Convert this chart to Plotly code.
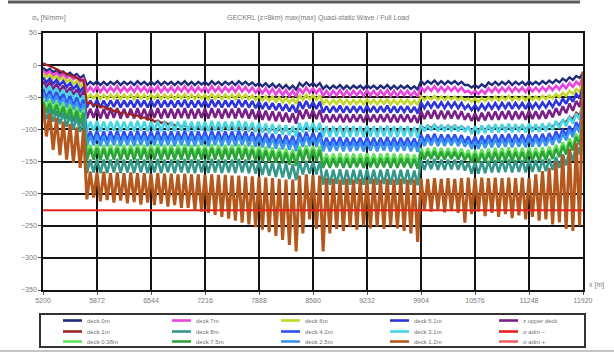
import plotly.graph_objects as go

# Frame stations along the hull girder (m), one every 42 m
STATION_X = list(range(5200, 11921, 42))

# Longitudinal stress sigma_x [N/mm^2] per evaluation level, one value per station
DECK_0 = [
    -4, -9, -6, -11, -8, -13, -10, -15, -12, -17, -14, -20, -16,
    -31, -26, -30, -25, -31, -26, -31, -26, -30, -25,
    -31, -26, -30, -26, -31, -25, -30, -26, -31, -26,
    -30, -25, -31, -26, -30, -26, -31, -26, -30, -25,
    -31, -26, -31, -26, -30, -26, -31, -25, -30, -26,
    -31, -26, -30, -26, -31, -25, -30, -26, -31, -27,
    -32, -28, -33, -28, -34, -29, -35, -30, -36, -31,
    -37, -32, -38,
    -28, -33, -27, -32, -28, -33, -28,
    -37, -32, -37, -32, -36, -31, -37, -32, -37, -32,
    -36, -32, -37, -31, -36, -32, -37, -32, -36, -31,
    -37, -32, -37, -32, -36, -32, -37, -33, -38,
    -25, -30, -25, -29, -24, -30, -25, -30, -25, -29, -25, -30, -26, -31,
    -31, -35, -31, -35, -30, -34, -27, -31, -26, -31,
    -26, -30, -25, -31, -26, -30, -26, -31, -25, -30,
    -26, -30, -25, -29, -24, -28, -23, -27, -21, -25,
    -19, -23, -17, -20, -12,
]
DECK_7 = [
    -8, -14, -10, -16, -12, -18, -14, -20, -16, -22, -18, -26, -21,
    -42, -34, -41, -33, -42, -34, -42, -34, -41, -33,
    -42, -34, -41, -34, -42, -33, -41, -34, -42, -34,
    -41, -33, -42, -34, -41, -34, -42, -34, -41, -33,
    -42, -34, -42, -34, -41, -34, -42, -33, -41, -34,
    -42, -34, -41, -34, -42, -33, -41, -34, -42, -35,
    -43, -36, -44, -36, -45, -37, -46, -38, -47, -39,
    -48, -40, -49,
    -36, -44, -35, -43, -36, -44, -36,
    -48, -40, -48, -40, -47, -39, -48, -40, -48, -40,
    -47, -40, -48, -39, -47, -40, -48, -40, -47, -39,
    -48, -40, -48, -40, -47, -40, -48, -41, -49,
    -34, -41, -34, -40, -33, -41, -34, -41, -34, -40, -34, -41, -35, -42,
    -40, -45, -40, -45, -39, -44, -36, -42, -35, -42,
    -35, -41, -34, -42, -35, -41, -35, -42, -34, -41,
    -35, -41, -34, -40, -33, -39, -32, -38, -30, -36,
    -28, -34, -26, -31, -18,
]
DECK_6 = [
    -13, -19, -15, -21, -17, -23, -19, -26, -22, -29, -25, -33, -28,
    -53, -46, -52, -45, -53, -46, -53, -46, -52, -45,
    -53, -46, -52, -46, -53, -45, -52, -46, -53, -46,
    -52, -45, -53, -46, -52, -46, -53, -46, -52, -45,
    -53, -46, -53, -46, -52, -46, -53, -45, -52, -46,
    -53, -46, -52, -46, -53, -45, -52, -46, -53, -47,
    -54, -48, -55, -48, -56, -49, -57, -50, -58, -51,
    -59, -52, -60,
    -47, -54, -46, -53, -47, -54, -47,
    -61, -54, -61, -54, -60, -53, -61, -54, -61, -54,
    -60, -54, -61, -53, -60, -54, -61, -54, -60, -53,
    -61, -54, -61, -54, -60, -54, -61, -55, -62,
    -49, -54, -49, -53, -48, -54, -49, -54, -49, -53, -49, -54, -50, -55,
    -52, -57, -52, -57, -51, -56, -50, -55, -49, -55,
    -49, -54, -48, -55, -49, -54, -49, -55, -48, -54,
    -49, -54, -48, -53, -47, -52, -45, -50, -43, -48,
    -40, -45, -37, -42, -26,
]
DECK_5 = [
    -19, -27, -21, -29, -23, -31, -25, -34, -28, -37, -31, -41, -34,
    -66, -55, -65, -54, -66, -55, -66, -55, -65, -54,
    -66, -55, -65, -55, -66, -54, -65, -55, -66, -55,
    -65, -54, -66, -55, -65, -55, -66, -55, -65, -54,
    -66, -55, -66, -55, -65, -55, -66, -54, -65, -55,
    -66, -55, -65, -55, -66, -54, -65, -55, -66, -56,
    -67, -57, -68, -58, -69, -59, -70, -60, -71, -61,
    -72, -62, -74,
    -57, -68, -56, -67, -57, -68, -57,
    -74, -64, -74, -64, -73, -63, -74, -64, -74, -64,
    -73, -64, -74, -63, -73, -64, -74, -64, -73, -63,
    -74, -64, -74, -64, -73, -64, -74, -65, -75,
    -58, -67, -58, -66, -57, -67, -58, -67, -58, -66, -58, -67, -59, -68,
    -62, -70, -62, -70, -61, -69, -60, -68, -59, -68,
    -59, -67, -58, -68, -59, -67, -59, -68, -58, -67,
    -59, -67, -58, -66, -57, -65, -55, -63, -52, -60,
    -49, -57, -45, -52, -32,
]
UPPER_DECK = [
    -25, -34, -27, -37, -30, -40, -32, -43, -35, -46, -38, -50, -41,
    -83, -68, -82, -67, -83, -68, -83, -68, -82, -67,
    -83, -68, -82, -68, -83, -67, -82, -68, -83, -68,
    -82, -67, -83, -68, -82, -68, -83, -68, -82, -67,
    -83, -68, -83, -68, -82, -68, -83, -67, -82, -68,
    -83, -68, -82, -68, -83, -67, -82, -68, -83, -69,
    -84, -70, -85, -71, -86, -72, -87, -73, -88, -74,
    -89, -75, -91,
    -70, -84, -69, -83, -70, -84, -70,
    -89, -77, -89, -77, -88, -76, -89, -77, -89, -77,
    -88, -77, -89, -76, -88, -77, -89, -77, -88, -76,
    -89, -77, -89, -77, -88, -77, -89, -78, -90,
    -71, -84, -71, -83, -70, -84, -71, -84, -71, -83, -71, -84, -72, -85,
    -75, -87, -75, -87, -74, -86, -73, -85, -72, -85,
    -72, -84, -71, -85, -72, -84, -72, -85, -71, -84,
    -72, -84, -71, -83, -70, -81, -67, -78, -64, -75,
    -60, -71, -56, -65, -40,
]
DECK_1 = [
    3, 1, -1, -4, -6, -9, -11, -13, -15, -18, -20, -23, -24,
    -60, -58, -63, -61, -66, -64, -69, -67, -72, -70,
    -75, -73, -78, -76, -80, -78, -83, -81, -85, -83,
    -88, -86, -90, -88, -92, -90, -94, -92, -96, -94,
    -98, -95, -99, -95, -99, -95, -100, -96, -100, -96,
    -100, -96, -100, -96, -101, -97, -101, -97, -102, -98,
    -102, -98, -103, -99, -103, -99, -104, -100, -104, -100,
    -105, -101, -106,
    -96, -100, -95, -99, -96, -100, -96,
    -103, -98, -103, -98, -102, -97, -103, -98, -103, -98,
    -102, -98, -103, -97, -102, -98, -103, -98, -102, -97,
    -103, -98, -103, -98, -102, -98, -103, -99, -104,
    -94, -99, -94, -98, -93, -99, -94, -99, -94, -98, -94, -99, -95, -100,
    -97, -102, -97, -102, -96, -101, -95, -100, -95, -100,
    -95, -99, -94, -100, -95, -99, -95, -100, -94, -99,
    -95, -99, -94, -98, -93, -96, -90, -93, -86, -89,
    -80, -84, -74, -78, -60,
]
DECK_31 = [
    -31, -42, -33, -45, -36, -48, -38, -51, -41, -54, -44, -58, -47,
    -103, -88, -102, -87, -103, -88, -103, -88, -102, -87,
    -103, -88, -102, -88, -103, -87, -102, -88, -103, -88,
    -102, -87, -103, -88, -102, -88, -103, -88, -102, -87,
    -103, -88, -103, -88, -102, -88, -103, -87, -102, -88,
    -103, -88, -102, -88, -103, -87, -102, -88, -103, -89,
    -104, -90, -105, -91, -106, -92, -107, -93, -108, -94,
    -109, -95, -111,
    -90, -104, -89, -103, -90, -104, -90,
    -112, -95, -112, -95, -111, -94, -112, -95, -112, -95,
    -111, -95, -112, -94, -111, -95, -112, -95, -111, -94,
    -112, -95, -112, -95, -111, -95, -112, -96, -113,
    -93, -103, -93, -102, -92, -103, -93, -103, -93, -102, -93, -103, -94, -104,
    -95, -107, -95, -107, -94, -106, -93, -105, -92, -105,
    -92, -104, -91, -105, -92, -104, -92, -105, -91, -104,
    -92, -104, -91, -103, -90, -101, -87, -98, -84, -95,
    -80, -91, -75, -85, -55,
]
DECK_42 = [
    -37, -50, -40, -53, -42, -56, -45, -59, -48, -62, -51, -66, -54,
    -118, -103, -117, -102, -118, -103, -118, -103, -117, -102,
    -118, -103, -117, -103, -118, -102, -117, -103, -118, -103,
    -117, -102, -118, -103, -117, -103, -118, -103, -117, -102,
    -118, -103, -118, -103, -117, -103, -118, -102, -117, -103,
    -118, -103, -117, -103, -118, -102, -117, -103, -118, -104,
    -119, -105, -120, -106, -121, -107, -122, -108, -123, -109,
    -124, -110, -126,
    -105, -120, -104, -119, -105, -120, -105,
    -126, -113, -126, -113, -125, -112, -126, -113, -126, -113,
    -125, -113, -126, -112, -125, -113, -126, -113, -125, -112,
    -126, -113, -126, -113, -125, -113, -126, -114, -127,
    -108, -120, -108, -119, -107, -120, -108, -120, -108, -119, -108, -120, -109, -121,
    -111, -123, -111, -123, -110, -122, -109, -121, -108, -121,
    -108, -120, -107, -121, -108, -120, -108, -121, -107, -120,
    -108, -120, -107, -119, -106, -117, -103, -114, -99, -110,
    -95, -106, -89, -99, -64,
]
DECK_25 = [
    -43, -57, -46, -60, -48, -63, -51, -66, -54, -70, -57, -74, -60,
    -126, -110, -125, -109, -126, -110, -126, -110, -125, -109,
    -126, -110, -125, -110, -126, -109, -125, -110, -126, -110,
    -125, -109, -126, -110, -125, -110, -126, -110, -125, -109,
    -126, -110, -126, -110, -125, -110, -126, -109, -125, -110,
    -126, -110, -125, -110, -126, -109, -125, -110, -126, -111,
    -127, -112, -128, -113, -129, -114, -130, -115, -131, -116,
    -132, -117, -134,
    -112, -127, -111, -126, -112, -127, -112,
    -134, -120, -134, -120, -133, -119, -134, -120, -134, -120,
    -133, -120, -134, -119, -133, -120, -134, -120, -133, -119,
    -134, -120, -134, -120, -133, -120, -134, -121, -135,
    -114, -126, -114, -125, -113, -126, -114, -126, -114, -125, -114, -126, -115, -127,
    -118, -130, -118, -130, -117, -129, -116, -128, -115, -128,
    -115, -127, -114, -128, -115, -127, -115, -128, -114, -127,
    -115, -127, -114, -126, -113, -124, -110, -121, -106, -117,
    -101, -112, -95, -105, -70,
]
DECK_038 = [
    -51, -66, -54, -69, -56, -72, -59, -76, -62, -80, -65, -84, -68,
    -140, -124, -139, -123, -140, -124, -140, -124, -139, -123,
    -140, -124, -139, -124, -140, -123, -139, -124, -140, -124,
    -139, -123, -140, -124, -139, -124, -140, -124, -139, -123,
    -140, -124, -140, -124, -139, -124, -140, -123, -139, -124,
    -140, -124, -139, -124, -140, -123, -139, -124, -140, -125,
    -141, -126, -142, -127, -143, -128, -144, -129, -145, -130,
    -147, -131, -149,
    -126, -141, -125, -140, -126, -141, -126,
    -152, -138, -152, -138, -151, -137, -152, -138, -152, -138,
    -151, -138, -152, -137, -151, -138, -152, -138, -151, -137,
    -152, -138, -152, -138, -151, -138, -152, -139, -153,
    -129, -142, -129, -141, -128, -142, -129, -142, -129, -141, -129, -142, -130, -143,
    -132, -146, -132, -146, -131, -145, -130, -144, -129, -144,
    -129, -143, -128, -144, -129, -143, -129, -144, -128, -143,
    -129, -143, -128, -142, -127, -140, -124, -137, -120, -133,
    -114, -127, -107, -118, -78,
]
DECK_75 = [
    -57, -74, -60, -77, -62, -80, -65, -84, -68, -88, -71, -92, -74,
    -148, -130, -147, -129, -148, -130, -148, -130, -147, -129,
    -148, -130, -147, -130, -148, -129, -147, -130, -148, -130,
    -147, -129, -148, -130, -147, -130, -148, -130, -147, -129,
    -148, -130, -148, -130, -147, -130, -148, -129, -147, -130,
    -148, -130, -147, -130, -148, -129, -147, -130, -148, -131,
    -149, -132, -150, -133, -151, -134, -152, -135, -153, -136,
    -155, -137, -157,
    -132, -150, -131, -149, -132, -150, -132,
    -160, -145, -160, -145, -159, -144, -160, -145, -160, -145,
    -159, -145, -160, -144, -159, -145, -160, -145, -159, -144,
    -160, -145, -160, -145, -159, -145, -160, -146, -161,
    -135, -147, -135, -146, -134, -147, -135, -147, -135, -146, -135, -147, -136, -148,
    -138, -152, -138, -152, -137, -151, -136, -150, -135, -150,
    -135, -149, -134, -150, -135, -149, -135, -150, -134, -149,
    -135, -149, -134, -148, -133, -146, -130, -143, -126, -139,
    -120, -133, -112, -124, -84,
]
DECK_8 = [
    -65, -84, -68, -88, -71, -92, -74, -96, -77, -100, -80, -104, -83,
    -168, -147, -167, -146, -168, -147, -168, -147, -167, -146,
    -168, -147, -167, -147, -168, -146, -167, -147, -168, -147,
    -167, -146, -168, -147, -167, -147, -168, -147, -167, -146,
    -168, -147, -168, -147, -167, -147, -168, -146, -167, -147,
    -168, -147, -167, -147, -168, -146, -167, -147, -168, -148,
    -169, -149, -171, -150, -172, -151, -174, -152, -175, -153,
    -177, -154, -179,
    -150, -170, -149, -169, -150, -170, -150,
    -186, -163, -186, -163, -185, -162, -186, -163, -186, -163,
    -185, -163, -186, -162, -185, -163, -186, -163, -185, -162,
    -186, -163, -186, -163, -185, -163, -186, -164, -187,
    -147, -163, -147, -162, -146, -163, -147, -163, -147, -162, -147, -163, -148, -164,
    -151, -169, -151, -169, -150, -168, -149, -167, -148, -167,
    -148, -166, -147, -167, -148, -166, -148, -167, -147, -166,
    -148, -166, -147, -165, -146, -163, -143, -160, -139, -156,
    -132, -149, -124, -139, -92,
]
DECK_12 = [
    -62, -111, -76, -132, -82, -140, -88, -147, -92, -152, -97, -160, -100,
    -209, -166, -206, -167, -212, -166, -210, -168, -214, -167,
    -211, -168, -215, -167, -213, -168, -217, -168, -214, -169,
    -218, -168, -216, -169, -220, -169, -218, -170, -222, -169,
    -222, -170, -226, -170, -228, -171, -230, -170, -233, -171,
    -236, -171, -239, -172, -242, -172, -245, -173, -248, -173,
    -252, -174, -256, -175, -260, -176, -266, -177, -272, -178,
    -280, -178, -290,
    -172, -262, -170, -240, -171, -255, -172,
    -290, -176, -262, -177, -255, -178, -258, -177, -252, -178,
    -256, -177, -250, -178, -254, -177, -251, -178, -255, -177,
    -250, -178, -254, -177, -258, -178, -262, -178, -275,
    -176, -226, -177, -228, -176, -225, -177, -229, -176, -227, -177, -230, -176, -245,
    -175, -232, -176, -228, -175, -235, -176, -230, -175, -236,
    -176, -232, -175, -238, -176, -234, -175, -240, -176, -236,
    -170, -242, -165, -240, -160, -248, -150, -245, -140, -255,
    -130, -258, -121, -250, -10,
]

# Permissible stress limits [N/mm^2]
LIMIT_X = [5200, 11920]
SIGMA_ADM_C = [-226, -226]
SIGMA_ADM_T = [226, 226]

X_TICKS = [5200, 5872, 6544, 7216, 7888, 8560, 9232, 9904, 10576, 11248, 11920]
Y_TICKS = [50, 0, -50, -100, -150, -200, -250, -300, -350]

# (name, values, colour, line width) in drawing order, highest level first
SERIES = [
    ("deck 0m", DECK_0, "#1f2a78", 2.4),
    ("deck 7m", DECK_7, "#e845e0", 2.6),
    ("deck 6m", DECK_6, "#c2d82a", 2.6),
    ("deck 5.1m", DECK_5, "#2e34dc", 2.6),
    ("z upper deck", UPPER_DECK, "#7a1f86", 2.6),
    ("deck 1m", DECK_1, "#9e2424", 2.2),
    ("deck 3.1m", DECK_31, "#46d6e6", 2.6),
    ("deck 4.2m", DECK_42, "#2f4ff0", 2.6),
    ("deck 2.5m", DECK_25, "#3a92f2", 2.6),
    ("deck 0.38m", DECK_038, "#62e35a", 2.6),
    ("deck 7.5m", DECK_75, "#2ea23a", 2.6),
    ("deck 8m", DECK_8, "#33978a", 2.6),
    ("deck 1.2m", DECK_12, "#b5581e", 3.0),
]
LIMITS = [
    ("σ adm −", SIGMA_ADM_C, "#e8201c", 2.0),
    ("σ adm +", SIGMA_ADM_T, "#f26464", 2.0),
]

# Legend layout: 3 rows x 5 columns of entry names
LEGEND_ROWS = [
    ["deck 0m", "deck 7m", "deck 6m", "deck 5.1m", "z upper deck"],
    ["deck 1m", "deck 8m", "deck 4.2m", "deck 3.1m", "σ adm −"],
    ["deck 0.38m", "deck 7.5m", "deck 2.5m", "deck 1.2m", "σ adm +"],
]

for name, vals, _, _ in SERIES:
    assert len(vals) == len(STATION_X), (name, len(vals))

fig = go.Figure()
for name, vals, colour, lw in SERIES:
    fig.add_trace(go.Scatter(
        x=STATION_X, y=vals, mode="lines", name=name, showlegend=False,
        line=dict(color=colour, width=lw),
    ))
for name, vals, colour, lw in LIMITS:
    fig.add_trace(go.Scatter(
        x=LIMIT_X, y=vals, mode="lines", name=name, showlegend=False,
        line=dict(color=colour, width=lw),
    ))

# Plot area in pixels: x 43..583, y 33..290
L, R, T, B = 43, 583, 33, 290


def px(x):
    return (x - L) / (R - L)


def py(y):
    return (B - y) / (B - T)


colour_of = {n: c for n, _, c, _ in SERIES + LIMITS}
shapes = [
    # window frame lines
    dict(type="line", xref="paper", yref="paper", x0=px(8), x1=px(580),
         y0=py(2), y1=py(2), line=dict(color="#5a5a5a", width=3)),
    dict(type="line", xref="paper", yref="paper", x0=px(0), x1=px(614),
         y0=py(351), y1=py(351), line=dict(color="#c4c4c4", width=2)),
    # legend box
    dict(type="rect", xref="paper", yref="paper", x0=px(40), x1=px(585),
         y0=py(347), y1=py(314), line=dict(color="#333333", width=2),
         fillcolor="white"),
]
annotations = []
col_x = [63, 172, 281, 390, 499]
row_y = [320.5, 331.5, 341.5]
for r, row in enumerate(LEGEND_ROWS):
    for c, name in enumerate(row):
        x0 = col_x[c]
        shapes.append(dict(
            type="line", xref="paper", yref="paper", x0=px(x0), x1=px(x0 + 19),
            y0=py(row_y[r]), y1=py(row_y[r]),
            line=dict(color=colour_of[name], width=2.6)))
        annotations.append(dict(
            text=name, xref="paper", yref="paper", x=px(x0 + 22),
            y=py(row_y[r]), showarrow=False, xanchor="left", yanchor="middle",
            font=dict(size=6, color="#707070")))

grey = "#7a7a7a"
annotations += [
    dict(text="GECKRL (z=8km) max(max) Quasi-static Wave / Full Load",
         xref="paper", yref="paper", x=px(318), y=py(18), showarrow=False,
         xanchor="center", yanchor="middle", font=dict(size=7, color=grey)),
    dict(text="σ<sub>x</sub> [N/mm²]", xref="paper", yref="paper",
         x=px(30), y=py(18), showarrow=False, xanchor="left",
         yanchor="middle", font=dict(size=7, color=grey)),
    dict(text="x [m]", xref="paper", yref="paper", x=px(587), y=py(285),
         showarrow=False, xanchor="left", yanchor="middle",
         font=dict(size=7, color=grey)),
]

axis_common = dict(
    showgrid=True, gridcolor="#141414", gridwidth=1.6,
    showline=True, linecolor="#141414", linewidth=1.6, mirror=True,
    ticks="outside", ticklen=3, tickcolor="#555555", zeroline=False,
    tickfont=dict(size=7, color=grey),
)
fig.update_layout(
    width=614, height=354,
    margin=dict(l=L, r=614 - R, t=T, b=354 - B, autoexpand=False),
    paper_bgcolor="white", plot_bgcolor="white",
    font=dict(family="Liberation Sans, Arial, sans-serif", size=7, color=grey),
    showlegend=False,
    hovermode=False,
    xaxis=dict(range=[5200, 11920], tickmode="array", tickvals=X_TICKS,
               ticktext=[str(v) for v in X_TICKS], **axis_common),
    yaxis=dict(range=[-350, 50], tickmode="array", tickvals=Y_TICKS,
               **axis_common),
    shapes=shapes,
    annotations=annotations,
)

fig.write_html("out.html", config={"displayModeBar": False})
